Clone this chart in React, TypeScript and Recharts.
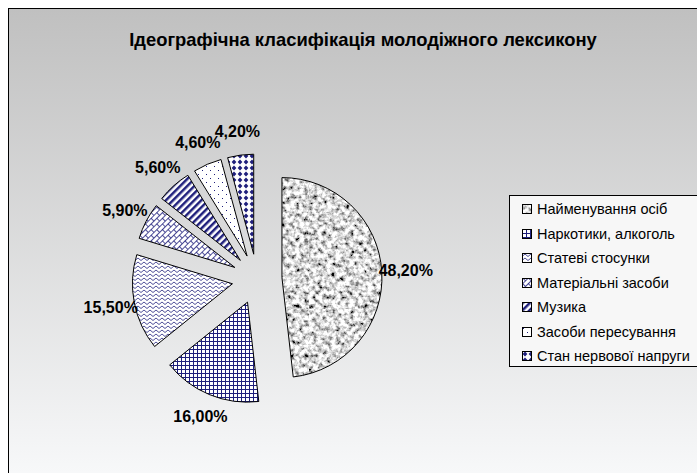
import { PieChart, Pie, Cell, Legend, Sector } from 'recharts';

const categories = [
  'Найменування осіб',
  'Наркотики, алкоголь',
  'Статеві стосунки',
  'Матеріальні засоби',
  'Музика',
  'Засоби пересування',
  'Стан нервової напруги',
];
const shares = [48.2, 16.0, 15.5, 5.9, 5.6, 4.6, 4.2];

const data = categories.map((name, i) => ({ name, value: shares[i] }));

const NAVY = '#1f1f7c';
const FILLS = [
  'url(#pGranite)',
  'url(#pGrid)',
  'url(#pZigzag)',
  'url(#pBricks)',
  'url(#pStripes)',
  'url(#pDots)',
  'url(#pDiamonds)',
];
const FONT = '"Liberation Sans", Arial, sans-serif';
const EXPLODE = 25;
const RADIAN = Math.PI / 180;

const fmt = (v: number) => v.toFixed(2).replace('.', ',') + '%';

function ExplodedSlice(props: any) {
  const { cx, cy, midAngle, outerRadius, startAngle, endAngle, fill } = props;
  const dx = EXPLODE * Math.cos(-midAngle * RADIAN);
  const dy = EXPLODE * Math.sin(-midAngle * RADIAN);
  return (
    <Sector
      cx={cx + dx}
      cy={cy + dy}
      innerRadius={0}
      outerRadius={outerRadius}
      startAngle={startAngle}
      endAngle={endAngle}
      fill={fill}
      stroke="#000"
      strokeWidth={1}
    />
  );
}

function renderLabel(props: any) {
  const { cx, cy, midAngle, outerRadius, value } = props;
  const r = outerRadius + EXPLODE + 24;
  const x = cx + r * Math.cos(-midAngle * RADIAN);
  const y = cy + r * Math.sin(-midAngle * RADIAN);
  return (
    <text x={x} y={y} textAnchor="middle" dominantBaseline="central" fill="#000"
      style={{ fontFamily: FONT, fontSize: 16, fontWeight: 700 }}>
      {fmt(value)}
    </text>
  );
}

function LegendBox() {
  return (
    <div style={{
      border: '1px solid #000', background: '#f7f7f7', width: 200, height: 172,
      boxSizing: 'border-box', paddingTop: 1, fontFamily: FONT, fontSize: 14.5, color: '#000',
    }}>
      {categories.map((name, i) => (
        <div key={name} style={{ display: 'flex', alignItems: 'center', height: 24.5, paddingLeft: 12 }}>
          <svg width={10} height={10} style={{ marginRight: 5, flex: 'none' }}>
            <rect x={0.5} y={0.5} width={9} height={9} fill={FILLS[i]} stroke="#000" strokeWidth={1} />
          </svg>
          <span style={{ whiteSpace: 'nowrap' }}>{name}</span>
        </div>
      ))}
    </div>
  );
}

function Patterns() {
  return (
    <svg width={0} height={0} style={{ position: 'absolute' }}>
      <defs>
        <filter id="fGranite" x="0" y="0" width="1" height="1">
          <feTurbulence type="fractalNoise" baseFrequency="0.22" numOctaves={3} seed={7} />
          <feColorMatrix type="matrix"
            values="2.4 0 0 0 -0.5  2.4 0 0 0 -0.5  2.4 0 0 0 -0.5  0 0 0 0 1" />
        </filter>
        <pattern id="pGranite" patternUnits="userSpaceOnUse" width={300} height={300}>
          <rect width={300} height={300} fill="#aaa" filter="url(#fGranite)" />
        </pattern>
        <pattern id="pGrid" patternUnits="userSpaceOnUse" width={4} height={4}>
          <rect width={4} height={4} fill="#fff" />
          <path d="M0 0.5H4M0.5 0V4" stroke={NAVY} strokeWidth={1} />
        </pattern>
        <pattern id="pZigzag" patternUnits="userSpaceOnUse" width={6} height={4}>
          <rect width={6} height={4} fill="#fff" />
          <path d="M0 3.5L3 1L6 3.5" stroke={NAVY} strokeWidth={0.8} fill="none" />
        </pattern>
        <pattern id="pBricks" patternUnits="userSpaceOnUse" width={8} height={8} patternTransform="rotate(-45)">
          <rect width={8} height={8} fill="#fff" />
          <path d="M0 0.5H8M0 4.5H8M0.5 0V4.5M4.5 4.5V8" stroke={NAVY} strokeWidth={0.8} />
        </pattern>
        <pattern id="pStripes" patternUnits="userSpaceOnUse" width={5} height={5} patternTransform="rotate(45)">
          <rect width={5} height={5} fill="#fff" />
          <rect width={2.5} height={5} fill={NAVY} />
        </pattern>
        <pattern id="pDots" patternUnits="userSpaceOnUse" width={8} height={8}>
          <rect width={8} height={8} fill="#fff" />
          <rect x={1} y={1} width={1} height={1} fill={NAVY} />
          <rect x={5} y={5} width={1} height={1} fill={NAVY} />
        </pattern>
        <pattern id="pDiamonds" patternUnits="userSpaceOnUse" width={6} height={6}>
          <rect width={6} height={6} fill="#fff" />
          <polygon points="3,0.6 5.4,3 3,5.4 0.6,3" fill={NAVY} />
        </pattern>
      </defs>
    </svg>
  );
}

export default function App() {
  return (
    <div style={{
      position: 'fixed', left: 8, top: 8, right: 0, bottom: 0,
      borderLeft: '1px solid #000', borderTop: '1px solid #000',
      background: 'linear-gradient(to bottom, #c0c0c0, #f7f8f9)',
    }}>
      <Patterns />
      <div style={{
        position: 'absolute', top: 20, left: 354, transform: 'translateX(-50%)', whiteSpace: 'nowrap',
        fontFamily: FONT, fontSize: 18.4, fontWeight: 700, lineHeight: '22px', color: '#000',
      }}>
        Ідеографічна класифікація молодіжного лексикону
      </div>
      <PieChart width={689} height={465} margin={{ top: 0, right: 0, bottom: 0, left: 0 }}
        style={{ position: 'absolute', left: 0, top: 0 }}>
        <Pie
          data={data}
          dataKey="value"
          nameKey="name"
          cx={248}
          cy={270}
          outerRadius={100}
          startAngle={90}
          endAngle={-270}
          stroke="#000"
          shape={ExplodedSlice}
          label={renderLabel}
          labelLine={false}
          isAnimationActive={false}
        >
          {data.map((d, i) => (
            <Cell key={d.name} fill={FILLS[i]} />
          ))}
        </Pie>
        <Legend
          layout="vertical"
          align="right"
          verticalAlign="top"
          content={() => <LegendBox />}
          wrapperStyle={{ position: 'absolute', left: 500, top: 186, width: 200 }}
        />
      </PieChart>
    </div>
  );
}
